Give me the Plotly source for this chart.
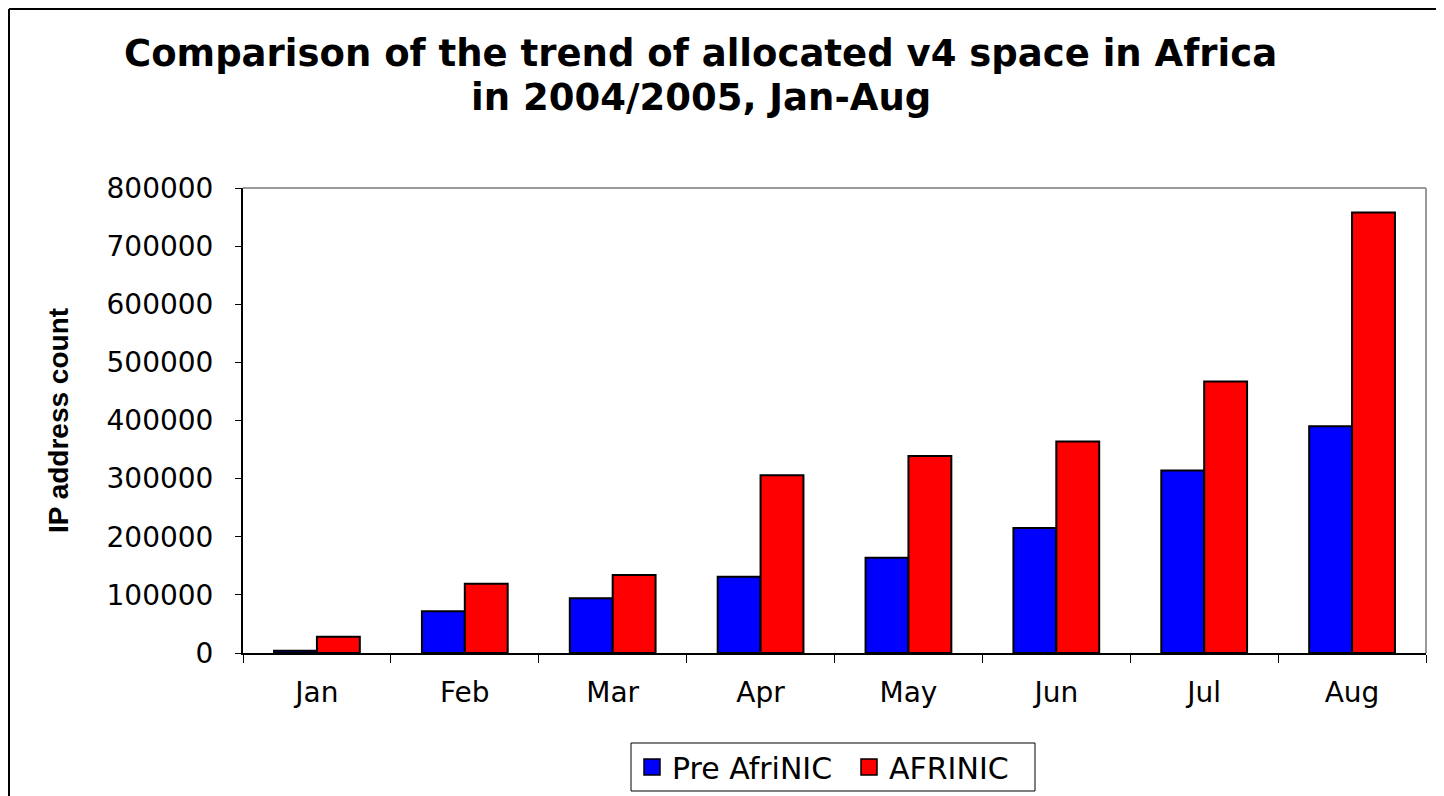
import plotly.graph_objects as go

months = ["Jan", "Feb", "Mar", "Apr", "May", "Jun", "Jul", "Aug"]
pre_afrinic = [4000, 72000, 94000, 131000, 164000, 215000, 314000, 390000]
afrinic = [28000, 119000, 134000, 306000, 339000, 364000, 467000, 758000]
y_ticks = [0, 100000, 200000, 300000, 400000, 500000, 600000, 700000, 800000]

OFF = 8  # page body margin
W, H = 1444 - OFF, 796 - OFF
L, R, T, B = 243 - OFF, 1426 - OFF, 188 - OFF, 653 - OFF


def px(x):
    """screen x -> paper x"""
    return (x - OFF - L) / (R - L)


def py(y):
    """screen y -> paper y"""
    return (B - (y - OFF)) / (B - T)


fig = go.Figure()
fig.add_trace(go.Bar(
    x=months, y=pre_afrinic, name="Pre AfriNIC", showlegend=False,
    marker=dict(color="#0000FF", line=dict(color="#000000", width=2)),
))
fig.add_trace(go.Bar(
    x=months, y=afrinic, name="AFRINIC", showlegend=False,
    marker=dict(color="#FF0000", line=dict(color="#000000", width=2)),
))
# legend entries (square swatches like the original)
for name, col, lg in [("Pre AfriNIC", "#0000FF", "legend"), ("AFRINIC", "#FF0000", "legend2")]:
    fig.add_trace(go.Scatter(
        x=[None], y=[None], mode="markers", name=name, legend=lg,
        marker=dict(symbol="square", size=16, color=col, line=dict(color="#000000", width=1.5)),
    ))

tick_font = dict(family="DejaVu Sans", size=28, color="#000000")
legend_font = dict(family="DejaVu Sans", size=30, color="#000000")

fig.update_layout(
    width=W, height=H,
    margin=dict(l=L, r=W - R, t=T, b=H - B, autoexpand=False),
    paper_bgcolor="#FFFFFF", plot_bgcolor="#FFFFFF",
    barmode="group", bargap=0.42, bargroupgap=0,
    showlegend=True,
    legend=dict(
        orientation="h", x=px(632), xanchor="left", y=py(767), yanchor="middle",
        font=legend_font, borderwidth=0, bgcolor="rgba(0,0,0,0)", itemwidth=30,
    ),
    legend2=dict(
        orientation="h", x=px(849), xanchor="left", y=py(767), yanchor="middle",
        font=legend_font, borderwidth=0, bgcolor="rgba(0,0,0,0)", itemwidth=30,
    ),
    xaxis=dict(
        type="category", showgrid=False, showline=True, linecolor="#000000", linewidth=2,
        ticks="outside", tickson="boundaries", ticklen=8, tickcolor="#000000", tickwidth=1,
        tickfont=tick_font, ticklabelstandoff=13,
    ),
    yaxis=dict(
        range=[0, 800000], tickvals=y_ticks, ticktext=[str(v) for v in y_ticks],
        showgrid=False, zeroline=False, showline=True, linecolor="#000000", linewidth=2,
        ticks="outside", ticklen=6, tickcolor="#000000", tickwidth=1,
        tickfont=tick_font, ticklabelstandoff=16,
        title=dict(text="IP address count",
                   font=dict(family="Liberation Sans", size=28, color="#000000", weight="bold"),
                   standoff=30),
    ),
    annotations=[
        dict(text="<b>Comparison of the trend of allocated v4 space in Africa</b>",
             xref="paper", yref="paper", x=px(700), y=py(53), xanchor="center", yanchor="middle",
             showarrow=False, font=dict(family="DejaVu Sans", size=37, color="#000000")),
        dict(text="<b>in 2004/2005, Jan-Aug</b>",
             xref="paper", yref="paper", x=px(701), y=py(98), xanchor="center", yanchor="middle",
             showarrow=False, font=dict(family="DejaVu Sans", size=37, color="#000000")),
    ],
    shapes=[
        dict(type="line", xref="paper", yref="paper", x0=0, x1=1, y0=1, y1=1,
             line=dict(color="#999999", width=2), layer="below"),
        dict(type="line", xref="paper", yref="paper", x0=1, x1=1, y0=0, y1=1,
             line=dict(color="#999999", width=2), layer="below"),
        dict(type="line", xref="paper", yref="paper", x0=px(9), x1=px(9), y0=py(9), y1=py(810),
             line=dict(color="#000000", width=2)),
        dict(type="line", xref="paper", yref="paper", x0=px(9), x1=px(1460), y0=py(9), y1=py(9),
             line=dict(color="#000000", width=2)),
        # legend frame
        dict(type="rect", xref="paper", yref="paper", x0=px(631), x1=px(1035), y0=py(743), y1=py(791),
             line=dict(color="#000000", width=1), fillcolor="rgba(0,0,0,0)", layer="below"),
    ],
)

fig.write_html("out.html")
